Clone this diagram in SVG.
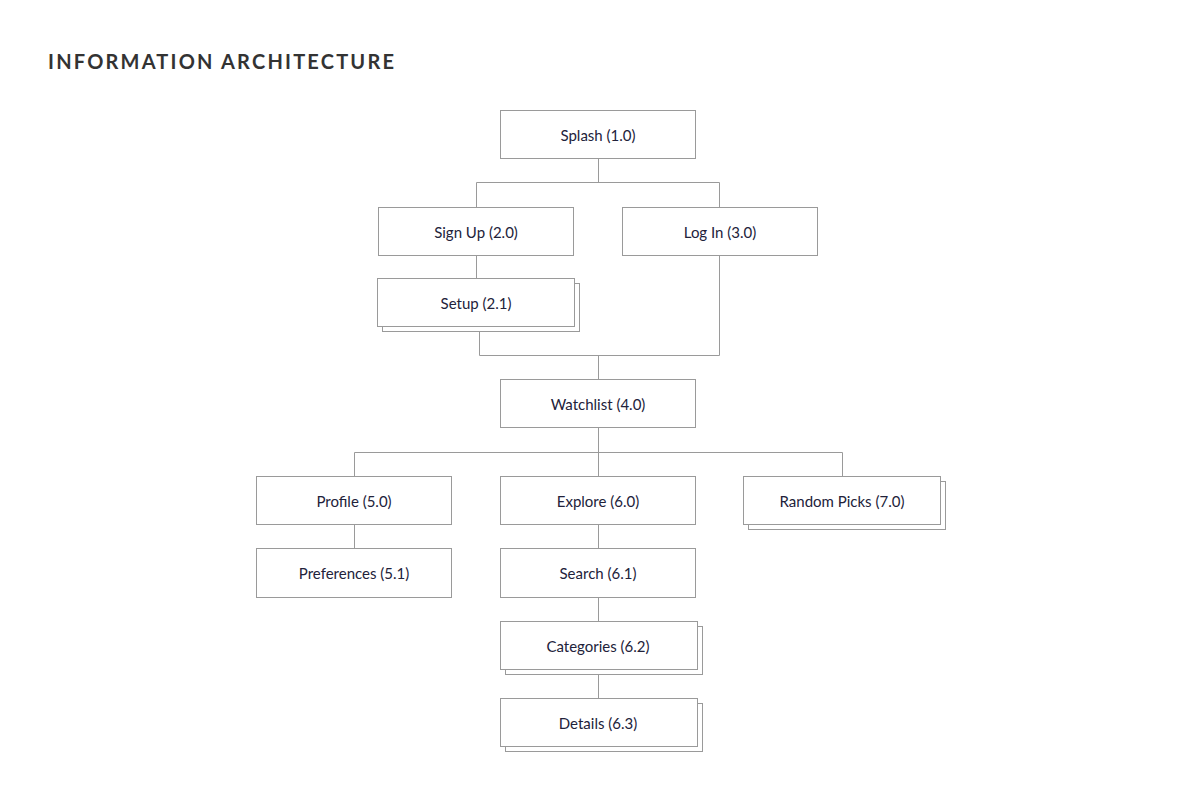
<svg xmlns="http://www.w3.org/2000/svg" width="1200" height="800" viewBox="0 0 1200 800">
<style>
.box{fill:#fff;stroke:#9a9a9a;stroke-width:1}
.lbl{font-family:Lato,"Open Sans","Liberation Sans",sans-serif;font-size:15px;fill:#22223a;text-anchor:middle;dominant-baseline:central}
.con{fill:none;stroke:#9a9a9a;stroke-width:1}
.title{font-family:Lato,"Open Sans","Liberation Sans",sans-serif;font-weight:bold;font-size:20px;fill:#333;letter-spacing:2.2px}
</style>
<rect width="1200" height="800" fill="#fff"/>
<text class="title" x="48" y="69">INFORMATION ARCHITECTURE</text>
<g id="connectors">
<path class="con" d="M598.5 158V182.5M476.5 207V182.5H719.5V207"/>
<path class="con" d="M476.5 255V278"/>
<path class="con" d="M479.5 331V355.5H719.5V255M598.5 355.5V379"/>
<path class="con" d="M598.5 427V452.5M354.5 476V452.5H842.5V476M598.5 452.5V476"/>
<path class="con" d="M354.5 524V548"/>
<path class="con" d="M598.5 524V548M598.5 597V621M598.5 674V698"/>
</g>
<g id="splash"><rect class="box" x="500.5" y="110.5" width="195" height="48"/><text class="lbl" x="598" y="134.5">Splash (1.0)</text></g>
<g id="signup"><rect class="box" x="378.5" y="207.5" width="195" height="48"/><text class="lbl" x="476" y="231.5">Sign Up (2.0)</text></g>
<g id="login"><rect class="box" x="622.5" y="207.5" width="195" height="48"/><text class="lbl" x="720" y="231.5">Log In (3.0)</text></g>
<g id="setup"><rect class="box" x="382.5" y="283.5" width="197" height="48"/><rect class="box" x="377.5" y="278.5" width="197" height="48"/><text class="lbl" x="476" y="302.5">Setup (2.1)</text></g>
<g id="watchlist"><rect class="box" x="500.5" y="379.5" width="195" height="48"/><text class="lbl" x="598" y="403.5">Watchlist (4.0)</text></g>
<g id="profile"><rect class="box" x="256.5" y="476.5" width="195" height="48"/><text class="lbl" x="354" y="500.5">Profile (5.0)</text></g>
<g id="explore"><rect class="box" x="500.5" y="476.5" width="195" height="48"/><text class="lbl" x="598" y="500.5">Explore (6.0)</text></g>
<g id="random"><rect class="box" x="748.5" y="481.5" width="197" height="48"/><rect class="box" x="743.5" y="476.5" width="197" height="48"/><text class="lbl" x="842" y="500.5">Random Picks (7.0)</text></g>
<g id="preferences"><rect class="box" x="256.5" y="548.5" width="195" height="49"/><text class="lbl" x="354" y="573">Preferences (5.1)</text></g>
<g id="search"><rect class="box" x="500.5" y="548.5" width="195" height="49"/><text class="lbl" x="598" y="573">Search (6.1)</text></g>
<g id="categories"><rect class="box" x="505.5" y="626.5" width="197" height="48"/><rect class="box" x="500.5" y="621.5" width="197" height="48"/><text class="lbl" x="598" y="645.5">Categories (6.2)</text></g>
<g id="details"><rect class="box" x="505.5" y="703.5" width="197" height="48"/><rect class="box" x="500.5" y="698.5" width="197" height="48"/><text class="lbl" x="598" y="722.5">Details (6.3)</text></g>
</svg>
